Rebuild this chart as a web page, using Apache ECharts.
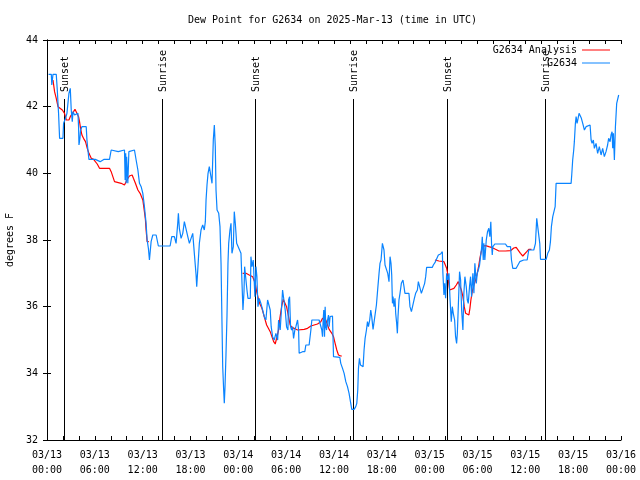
<!DOCTYPE html>
<html>
<head>
<meta charset="utf-8">
<script src="https://cdn.jsdelivr.net/npm/echarts@6/dist/echarts.min.js"></script>
<style>html,body{margin:0;padding:0;background:#fff}#c{width:640px;height:480px}</style>
</head>
<body>
<div id="c"></div>
<script>
// hours since 2025-03-13 00:00 UTC
var blueHours = [0.20,0.54,0.60,0.75,1.16,1.29,1.45,1.58,2.00,2.08,2.33,2.50,2.75,2.92,3.04,3.17,3.26,3.46,3.67,3.88,3.96,4.01,4.13,4.21,4.38,4.92,5.01,5.13,5.26,6.05,6.67,7.17,7.84,8.05,8.93,9.72,9.80,9.87,9.93,9.99,10.14,10.27,10.97,11.18,11.40,11.60,11.81,12.02,12.22,12.43,12.56,12.72,12.85,13.06,13.27,13.69,13.97,15.44,15.65,15.98,16.19,16.40,16.48,16.60,16.82,17.03,17.23,17.44,17.66,17.86,18.07,18.28,18.48,18.70,18.78,18.91,19.11,19.32,19.53,19.73,19.86,19.95,20.07,20.20,20.36,20.57,20.70,20.86,20.99,21.11,21.20,21.33,21.54,21.70,21.83,21.95,22.04,22.16,22.24,22.33,22.45,22.58,22.70,22.79,22.95,23.08,23.20,23.37,23.49,23.62,23.79,24.04,24.33,24.46,24.58,24.71,24.79,24.96,25.08,25.21,25.50,25.58,25.71,25.87,26.08,26.21,26.33,26.46,26.62,26.83,27.05,27.25,27.46,27.67,27.87,28.00,28.12,28.30,28.50,28.71,28.93,29.05,29.25,29.43,29.55,29.75,29.88,30.05,30.22,30.30,30.43,30.55,30.68,30.80,30.93,31.09,31.22,31.43,31.56,31.63,31.84,32.06,32.34,32.47,32.88,33.10,33.22,33.72,33.93,34.13,34.35,34.47,34.56,34.64,34.72,34.81,34.89,34.97,35.06,35.19,35.31,35.39,35.51,35.81,35.94,36.73,36.85,37.07,37.27,37.48,37.69,37.89,38.10,38.23,38.52,38.73,38.86,38.98,39.07,39.19,39.32,39.44,39.65,39.77,39.90,40.07,40.20,40.32,40.48,40.61,40.73,40.90,41.15,41.32,41.49,41.65,41.77,41.90,42.07,42.27,42.40,42.61,42.74,42.90,43.03,43.15,43.24,43.33,43.40,43.53,43.65,43.74,43.86,43.95,44.03,44.15,44.28,44.45,44.65,44.78,44.90,45.40,45.53,45.71,45.96,46.08,46.24,46.46,46.58,46.75,46.96,47.21,47.37,47.50,47.62,48.34,48.46,48.66,48.84,49.09,49.37,49.59,49.66,49.79,49.88,50.00,50.13,50.25,50.42,50.54,50.63,50.71,50.84,50.96,51.13,51.25,51.38,51.47,51.59,51.75,51.88,52.01,52.17,52.29,52.42,52.59,52.72,52.84,53.00,53.13,53.26,53.42,53.55,53.67,53.85,53.97,54.10,54.26,54.38,54.51,54.60,54.72,54.80,54.92,55.10,55.26,55.42,55.55,55.67,55.76,55.85,55.93,56.17,56.89,57.10,57.51,57.73,58.14,58.26,58.43,58.64,58.85,59.10,59.30,59.52,59.80,60.23,60.43,61.06,61.27,61.43,61.68,61.81,61.90,62.61,62.81,63.02,63.15,63.27,63.44,63.65,63.74,63.86,65.74,65.82,65.94,66.07,66.15,66.28,66.37,66.49,66.62,66.74,66.87,67.03,67.20,67.41,67.62,67.83,68.12,68.25,68.37,68.53,68.66,68.87,69.07,69.28,69.50,69.70,69.91,70.12,70.32,70.45,70.63,70.75,70.88,70.96,71.05,71.17,71.30,71.46,71.63,71.71];
var blueValues = [42.97,42.97,42.65,42.97,42.97,42.5,41.8,41.05,41.05,41.5,41.65,41.8,42.4,42.55,41.9,41.55,41.85,41.75,41.7,41.8,41.4,40.85,41.05,41.3,41.4,41.4,41.0,40.7,40.42,40.42,40.35,40.42,40.42,40.7,40.65,40.7,39.8,40.6,39.7,40.5,39.7,40.65,40.7,40.4,40.1,39.7,39.6,39.4,39.0,38.5,38.0,37.75,37.4,37.95,38.15,38.15,37.82,37.82,38.1,38.1,37.9,38.5,38.8,38.35,38.05,38.2,38.55,38.55,38.1,37.9,38.05,38.2,37.6,36.95,36.6,37.1,37.9,38.3,38.45,38.3,38.55,39.2,39.65,40.0,40.2,40.2,39.7,41.0,41.45,40.8,39.5,38.9,38.8,38.4,37.3,35.5,34.2,33.5,33.1,33.6,34.55,35.75,37.3,37.9,38.3,38.5,37.6,37.8,38.85,38.5,37.9,37.9,37.6,36.7,35.9,36.45,37.2,37.2,36.5,36.25,36.25,37.5,37.2,37.4,36.3,37.2,36.9,36.0,36.25,36.1,35.9,35.7,35.6,36.2,36.2,35.9,35.4,35.1,35.0,35.2,35.0,35.6,35.3,36.0,36.5,36.52,35.9,35.4,35.3,36.2,36.3,35.4,35.3,35.4,35.05,35.3,35.4,35.6,35.3,34.6,34.6,34.65,34.65,34.85,34.85,35.3,35.6,35.6,35.55,35.6,35.55,35.3,35.1,35.6,35.9,35.1,36.0,35.4,35.3,35.6,35.75,35.4,35.7,35.72,34.5,34.48,34.3,34.15,34.0,33.75,33.6,33.4,33.1,32.92,32.92,33.0,33.1,33.5,34.15,34.45,34.25,34.2,34.2,34.7,35.05,35.3,35.55,35.4,35.6,35.9,35.7,35.32,35.32,36.05,36.55,37.0,37.3,37.4,37.9,37.7,37.25,37.22,37.0,36.75,37.5,37.3,36.95,36.1,36.3,36.0,36.25,35.8,35.5,35.2,35.7,36.2,36.4,36.7,36.8,36.6,36.4,36.4,36.0,35.85,35.85,36.25,36.4,36.5,36.75,36.7,36.4,36.4,36.7,36.9,37.18,37.18,37.25,37.32,37.32,37.55,37.58,37.65,37.0,36.35,36.7,36.25,37.0,36.8,37.0,36.3,35.9,35.55,36.0,35.8,35.6,35.1,34.9,35.2,36.0,37.05,36.8,35.9,35.3,36.4,36.9,36.6,36.2,36.1,36.6,36.9,36.3,37.0,36.4,37.3,36.7,37.0,37.1,37.25,37.5,37.75,38.1,37.4,37.9,37.4,38.0,38.25,38.35,38.1,38.55,37.9,37.55,37.8,37.88,37.88,37.85,37.88,37.8,37.8,37.4,37.15,37.1,37.15,37.2,37.35,37.37,37.4,37.4,37.7,37.7,37.9,38.65,38.68,37.9,37.42,37.42,37.6,37.7,37.95,38.4,38.7,38.7,39.0,39.7,39.7,39.95,40.4,40.7,40.95,41.5,41.7,41.5,41.65,41.8,41.85,41.65,41.5,41.3,41.4,41.45,41.45,41.0,40.9,41.0,40.75,40.9,40.6,40.8,40.55,40.75,40.5,40.65,40.85,41.05,40.95,41.15,41.25,40.75,41.2,40.4,41.4,42.1,42.1,42.35];

var redHours = [0.75,0.95,1.16,1.38,1.58,1.92,2.20,2.42,2.75,2.92,3.17,3.33,3.51,3.76,3.96,4.08,4.21,4.38,4.58,4.83,5.05,5.26,5.55,5.84,6.09,6.30,6.59,7.84,8.05,8.26,8.47,8.68,9.30,9.72,9.93,10.14,10.34,10.68,10.84,11.09,11.40,11.68,12.02,12.22,12.35,12.43,12.56,12.77,
  18.0,
  24.54,24.96,25.37,25.80,26.00,26.12,26.30,26.50,26.71,26.96,27.25,27.55,27.80,28.00,28.21,28.43,28.63,28.84,29.05,29.21,29.43,29.63,29.84,30.05,30.30,30.50,30.72,31.00,31.43,32.26,32.68,33.10,33.51,33.93,34.35,34.56,34.76,34.97,35.19,35.39,35.73,35.94,36.14,36.35,36.56,36.85,36.98,
  42.0,
  48.66,49.16,49.79,50.00,50.13,50.25,50.34,50.50,50.75,51.04,51.34,51.59,51.75,51.97,52.17,52.34,52.51,52.72,52.92,53.05,53.17,53.34,53.55,53.76,53.97,54.17,54.30,54.47,54.67,55.01,55.42,55.85,56.26,56.68,57.51,58.14,58.55,58.85,59.10,59.39,59.68,59.93,60.18,60.43,60.77];
var redValues = [42.8,42.45,42.25,42.0,41.95,41.9,41.8,41.6,41.6,41.7,41.7,41.85,41.92,41.92,41.7,41.55,41.35,41.15,41.05,40.95,40.75,40.6,40.45,40.42,40.4,40.28,40.15,40.15,40.05,39.9,39.75,39.72,39.7,39.65,39.7,39.85,39.92,39.95,39.85,39.7,39.5,39.4,39.2,38.85,38.6,38.3,37.95,37.95,
  null,
  37.0,37.0,36.95,36.9,36.85,36.7,36.45,36.25,36.08,35.95,35.7,35.45,35.4,35.25,35.1,34.95,34.88,34.88,35.3,35.65,36.0,36.22,36.2,36.0,35.7,35.45,35.38,35.35,35.3,35.32,35.35,35.42,35.45,35.48,35.55,35.65,35.68,35.6,35.45,35.32,35.2,35.1,34.9,34.7,34.55,34.52,34.52,
  null,
  37.4,37.37,37.35,37.3,37.15,37.0,36.8,36.5,36.47,36.55,36.65,36.75,36.72,36.5,36.3,36.0,35.8,35.75,35.75,35.95,36.2,36.45,36.65,36.8,37.0,37.25,37.45,37.65,37.82,37.83,37.8,37.77,37.72,37.67,37.67,37.68,37.76,37.78,37.72,37.6,37.52,37.55,37.65,37.72,37.72];

var sunHours = [2.08, 14.48, 26.12, 38.39, 50.16, 62.43];
var sunLabels = ['Sunset', 'Sunrise', 'Sunset', 'Sunrise', 'Sunset', 'Sunrise'];

var yTicks = [32, 34, 36, 38, 40, 42, 44];
var xDays = ['03/13', '03/14', '03/15', '03/16'];

var FONT = '"DejaVu Sans Mono", "Liberation Mono", monospace';

function zip(a, b) { return a.map(function (v, i) { return [v, b[i]]; }); }

var chart = echarts.init(document.getElementById('c'), null, { renderer: 'canvas' });

function xLabel(v) {
  if (v % 6 !== 0) return '';
  var d = Math.floor(v / 24);
  var hh = v % 24;
  return xDays[d] + '\n' + (hh < 10 ? '0' : '') + hh + ':00';
}

var yMin = yTicks[0], yMax = yTicks[yTicks.length - 1];

var legendBase = {
  right: 25, align: 'right', orient: 'vertical', icon: 'rect',
  itemWidth: 28, itemHeight: 1, selectedMode: false,
  textStyle: { fontFamily: FONT, fontSize: 10, color: '#000' }
};

var option = {
  animation: false,
  backgroundColor: '#fff',
  title: {
    text: 'Dew Point for G2634 on 2025-Mar-13 (time in UTC)',
    left: 183, top: 10,
    textStyle: { fontFamily: FONT, fontSize: 10, fontWeight: 'normal', color: '#000' }
  },
  legend: [
    Object.assign({ data: ['G2634 Analysis'], top: 40 }, legendBase),
    Object.assign({ data: ['G2634'], top: 53 }, legendBase)
  ],
  grid: { left: 47, right: 19, top: 40, bottom: 40, containLabel: false, outerBoundsMode: 'none' },
  xAxis: [
    { type: 'value', min: 0, max: 72, interval: 2, position: 'bottom',
      axisLine: { lineStyle: { color: '#000', width: 1 } },
      axisTick: { inside: true, length: 4, lineStyle: { color: '#000' } },
      axisLabel: { formatter: xLabel, fontFamily: FONT, fontSize: 10, color: '#000', lineHeight: 15, margin: 8 },
      splitLine: { show: false } },
    { type: 'value', min: 0, max: 72, interval: 2, position: 'top',
      axisLine: { lineStyle: { color: '#000', width: 1 } },
      axisTick: { inside: true, length: 4, lineStyle: { color: '#000' } },
      axisLabel: { show: false }, splitLine: { show: false } }
  ],
  yAxis: [
    { type: 'value', min: yMin, max: yMax, interval: 2, position: 'left',
      name: 'degrees F', nameLocation: 'middle', nameGap: 31, nameRotate: 90,
      nameTextStyle: { fontFamily: FONT, fontSize: 10, color: '#000' },
      axisLine: { show: true, lineStyle: { color: '#000', width: 1 } },
      axisTick: { show: true, inside: true, length: 4, lineStyle: { color: '#000' } },
      axisLabel: { fontFamily: FONT, fontSize: 10, color: '#000', margin: 9 },
      splitLine: { show: false } },
    { type: 'value', min: yMin, max: yMax, interval: 2, position: 'right',
      axisLine: { show: true, lineStyle: { color: '#000', width: 1 } },
      axisTick: { show: true, inside: true, length: 4, lineStyle: { color: '#000' } },
      axisLabel: { show: false }, splitLine: { show: false } }
  ],
  series: [
    { type: 'custom', name: 'sun', xAxisIndex: 0, yAxisIndex: 0, silent: true, clip: false,
      data: sunHours.map(function (h) { return [h, yMin]; }),
      renderItem: function (params, api) {
        var h = api.value(0);
        var bottom = api.coord([h, yMin]);
        var topY = api.coord([h, yMax])[1] + 59;
        var x = Math.round(bottom[0]) + 0.5;
        return { type: 'group', children: [
          { type: 'line', shape: { x1: x, y1: topY, x2: x, y2: bottom[1] },
            style: { stroke: '#000', lineWidth: 1 } },
          { type: 'text', x: x + 1, y: topY - 7, rotation: Math.PI / 2,
            style: { text: sunLabels[params.dataIndex], font: '10px ' + FONT, fill: '#000',
                     align: 'left', verticalAlign: 'middle' } }
        ] };
      }
    },
    { type: 'line', name: 'G2634 Analysis', xAxisIndex: 0, yAxisIndex: 0,
      data: zip(redHours, redValues), symbol: 'none', connectNulls: false,
      lineStyle: { color: '#ff0000', width: 1.2 }, itemStyle: { color: '#ff0000' } },
    { type: 'line', name: 'G2634', xAxisIndex: 0, yAxisIndex: 0,
      data: zip(blueHours, blueValues), symbol: 'none',
      lineStyle: { color: '#0a84ff', width: 1.2 }, itemStyle: { color: '#0a84ff' } }
  ]
};
chart.setOption(option);
</script>
</body>
</html>
